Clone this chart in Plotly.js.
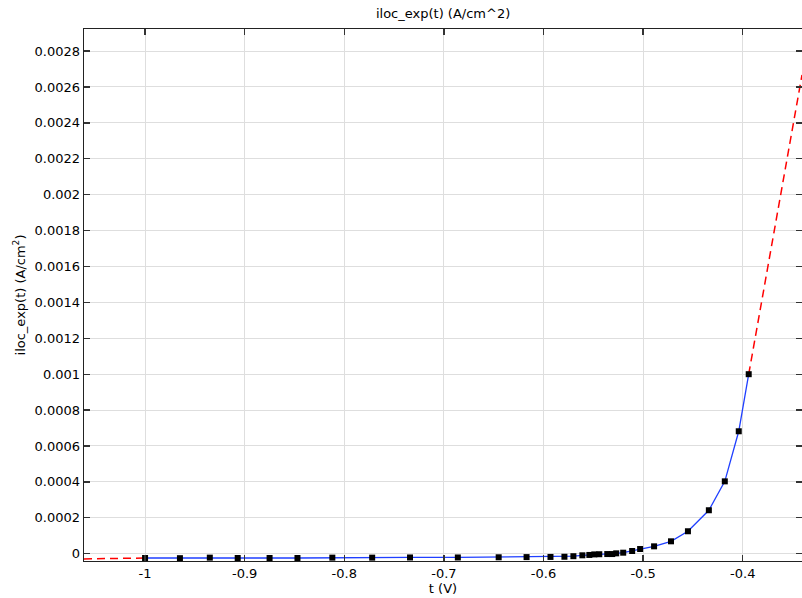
<!DOCTYPE html>
<html>
<head>
<meta charset="utf-8">
<script src="https://cdn.plot.ly/plotly-3.0.1.min.js"></script>
<style>html,body{margin:0;padding:0;background:#fff;}#chart{width:802px;height:598px;}</style>
</head>
<body>
<div id="chart"></div>
<script>
// Data
const tValues = [-1.0, -0.965, -0.935, -0.907, -0.875, -0.847, -0.812, -0.772, -0.734, -0.686,
  -0.645, -0.617, -0.593, -0.579, -0.570, -0.561, -0.554, -0.549, -0.544, -0.536,
  -0.531, -0.527, -0.520, -0.511, -0.503, -0.489, -0.472, -0.455, -0.434, -0.418,
  -0.404, -0.394];
const ilocValues = [-0.000024, -0.000025, -0.000022, -0.000024, -0.000024, -0.000024, -0.000022, -0.000022, -0.000021, -0.000021,
  -0.000020, -0.000019, -0.000018, -0.000017, -0.000014, -0.000009, -0.000007, -0.000004, -0.000003, -0.000002,
  -0.000002, 0.000002, 0.0000056, 0.000015, 0.000026, 0.000041, 0.000069, 0.000125, 0.000242, 0.000403,
  0.000682, 0.001];
const extrapLeftT = [-1.0613, -1.0];
const extrapLeftI = [-0.000029, -0.000024];
const extrapRightT = [-0.394, -0.3405];
const extrapRightI = [0.001, 0.002667];
const xTickVals = [-1, -0.9, -0.8, -0.7, -0.6, -0.5, -0.4];
const xTickText = ['-1', '-0.9', '-0.8', '-0.7', '-0.6', '-0.5', '-0.4'];
const yTickVals = [0, 0.0002, 0.0004, 0.0006, 0.0008, 0.001, 0.0012, 0.0014, 0.0016, 0.0018, 0.002, 0.0022, 0.0024, 0.0026, 0.0028];
const yTickText = ['0', '0.0002', '0.0004', '0.0006', '0.0008', '0.001', '0.0012', '0.0014', '0.0016', '0.0018', '0.002', '0.0022', '0.0024', '0.0026', '0.0028'];

const font = {family: 'DejaVu Sans, sans-serif', size: 13, color: '#000'};

const traces = [
  {x: extrapLeftT, y: extrapLeftI, mode: 'lines', line: {color: '#ff0000', width: 1.5, dash: '8px,5px'}, hoverinfo: 'skip'},
  {x: extrapRightT, y: extrapRightI, mode: 'lines', line: {color: '#ff0000', width: 1.5, dash: '8px,5px'}, hoverinfo: 'skip'},
  {x: tValues, y: ilocValues, mode: 'lines+markers', line: {color: '#1f3fff', width: 1.3},
   marker: {symbol: 'square', size: 6, color: '#000'}}
];

const layout = {
  width: 802, height: 598,
  margin: {l: 84, r: 0, t: 29, b: 37},
  paper_bgcolor: '#fff', plot_bgcolor: '#fff',
  showlegend: false,
  font: font,
  title: {text: 'iloc_exp(t) (A/cm^2)', font: {family: font.family, size: 13, color: '#000'}, x: 0.5525, xanchor: 'center', y: 0.977, yanchor: 'middle'},
  xaxis: {
    range: [-1.0613, -0.3405],
    tickvals: xTickVals, ticktext: xTickText,
    ticks: 'inside', ticklen: 6, tickcolor: '#333', tickwidth: 1.3,
    showline: true, linecolor: '#222', linewidth: 1.3, mirror: 'ticks',
    showgrid: true, gridcolor: '#dedede', gridwidth: 1, zeroline: false,
    tickfont: font,
    title: {text: 't (V)', font: font, standoff: 4}
  },
  yaxis: {
    range: [-0.0000407, 0.002923],
    tickvals: yTickVals, ticktext: yTickText,
    ticks: 'inside', ticklen: 6, tickcolor: '#333', tickwidth: 1.3,
    showline: true, linecolor: '#222', linewidth: 1.3, mirror: 'ticks',
    showgrid: true, gridcolor: '#dedede', gridwidth: 1, zeroline: false,
    tickfont: font,
    title: {text: 'iloc_exp(t) (A/cm<sup>2</sup>)', font: font, standoff: 6}
  }
};

Plotly.newPlot('chart', traces, layout, {displayModeBar: false, staticPlot: true});
</script>
</body>
</html>
